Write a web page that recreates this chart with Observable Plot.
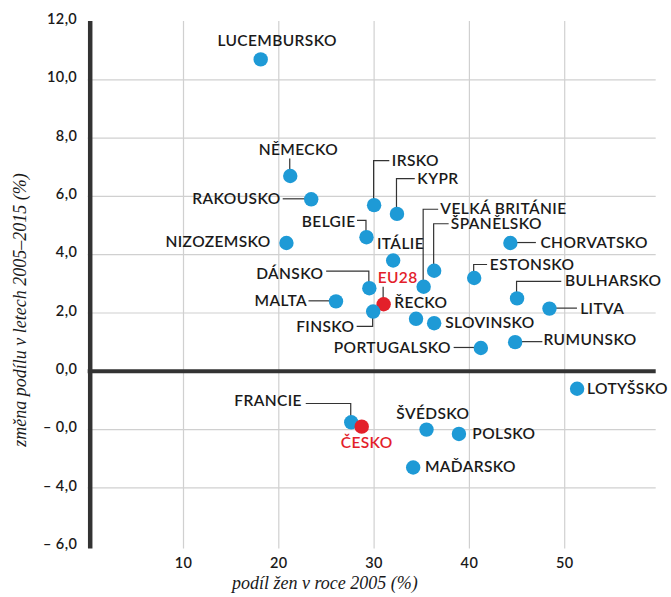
<!DOCTYPE html>
<html><head><meta charset="utf-8">
<script src="https://cdn.jsdelivr.net/npm/d3@7"></script>
<script src="https://cdn.jsdelivr.net/npm/@observablehq/plot@0.6"></script>
<style>
html,body{margin:0;padding:0;background:#fff;}
#chart{width:671px;height:597px;overflow:hidden;}
</style></head><body><div id="chart"></div>
<script>
// ---- data ----
const countries = ["LUCEMBURSKO","NĚMECKO","RAKOUSKO","IRSKO","KYPR","BELGIE","NIZOZEMSKO","ITÁLIE","DÁNSKO","EU28","MALTA","FINSKO","ŘECKO","SLOVINSKO","VELKÁ BRITÁNIE","ŠPANĚLSKO","CHORVATSKO","ESTONSKO","BULHARSKO","LITVA","PORTUGALSKO","RUMUNSKO","LOTYŠSKO","FRANCIE","ČESKO","ŠVÉDSKO","POLSKO","MAĎARSKO"];
const share2005 = [18.1,21.2,23.4,30.0,32.4,29.2,20.8,32.0,29.5,31.0,26.0,29.9,34.4,36.3,35.2,36.3,44.3,40.5,45.0,48.4,41.2,44.8,51.3,27.6,28.7,35.5,38.9,34.1];
const change2005_2015 = [10.7,6.7,5.9,5.7,5.4,4.6,4.4,3.8,2.85,2.3,2.4,2.05,1.8,1.65,2.9,3.45,4.4,3.2,2.5,2.15,0.8,1.0,-0.6,-1.75,-1.9,-2.0,-2.15,-3.3];
const highlighted = ["EU28","ČESKO"];
const xTicks = [10,20,30,40,50];
const yTicks = [12,10,8,6,4,2,0,-2,-4,-6];
const yTickLabels = ["12,0","10,0","8,0","6,0","4,0","2,0","0,0","– 0,0","– 4,0","– 6,0"];
const xTitle = "podíl žen v roce 2005 (%)";
const yTitle = "změna podílu v letech 2005–2015 (%)";

// ---- label layout (pixel offsets from each dot: anchor, dx, dy, leader path) ----
const labelLayout = {
  "LUCEMBURSKO": ["middle", 16.4, -18, null],
  "NĚMECKO": ["middle", 8.2, -25.7, [[0,0],[0,-17]]],
  "RAKOUSKO": ["end", -30.7, 0, [[0,0],[-28,0]]],
  "IRSKO": ["start", 17.7, -44, [[0,0],[0,-44],[15.7,-44]]],
  "KYPR": ["start", 20.3, -34.7, [[0,0],[0,-34.7],[18.3,-34.7]]],
  "BELGIE": ["end", -11, -15, [[0,0],[0,-16.4],[-9,-16.4]]],
  "NIZOZEMSKO": ["end", -15.7, -1, null],
  "ITÁLIE": ["middle", 7.3, -16.6, null],
  "DÁNSKO": ["end", -46, -14.6, [[0,0],[0,-16.5],[-42.7,-16.5]]],
  "EU28": ["start", -6, -26, [[0,0],[0,-17]]],
  "MALTA": ["end", -29, 0, [[0,0],[-27,0]]],
  "FINSKO": ["end", -18.7, 15.3, [[0,0],[0,15.3],[-16,15.3]]],
  "ŘECKO": ["start", -21.7, -15.7, null],
  "SLOVINSKO": ["start", 11, 0, null],
  "VELKÁ BRITÁNIE": ["start", 16.7, -78, [[0,0],[0,-77],[15,-77]]],
  "ŠPANĚLSKO": ["start", 16.7, -46.5, [[0,0],[0,-46.5],[15,-46.5]]],
  "CHORVATSKO": ["start", 30, 0, [[0,0],[26,0]]],
  "ESTONSKO": ["start", 15.7, -13, [[0,0],[0,-13],[13.4,-13]]],
  "BULHARSKO": ["start", 48, -17.3, [[0,0],[0,-16.6],[44.7,-16.6]]],
  "LITVA": ["start", 30.7, 0, [[0,0],[28,0]]],
  "PORTUGALSKO": ["end", -30, 0, [[0,0],[-26.7,0]]],
  "RUMUNSKO": ["start", 28.3, -2, [[0,0],[27.7,0]]],
  "LOTYŠSKO": ["start", 10, 0, null],
  "FRANCIE": ["end", -49.3, -21, [[0,0],[0,-18.3],[-45,-18.3]]],
  "ČESKO": ["middle", 5, 16, null],
  "ŠVÉDSKO": ["middle", 6.3, -15.4, null],
  "POLSKO": ["start", 13.4, 0, null],
  "MAĎARSKO": ["start", 11.7, -0.7, null]
};

const BLUE = "#1e9ad6", RED = "#e3202a", INK = "#1a1a1a", AXIS = "#333333", GRID = "#d0d0d0";
const FONT = "Lato, 'Noto Sans', sans-serif";

const data = countries.map((name, i) => ({
  name, x: share2005[i], y: change2005_2015[i], hi: highlighted.includes(name)
}));

const labelMarks = data.map(d => {
  const [anchor, dx, dy] = labelLayout[d.name];
  return Plot.text([d], {
    x: "x", y: "y", text: "name", dx, dy, textAnchor: anchor,
    fill: d.hi ? RED : INK, fontSize: 15.5, fontWeight: 600, fontFamily: FONT
  });
});

const plot = Plot.plot({
  width: 671, height: 597,
  marginTop: 21, marginBottom: 48.4, marginLeft: 87.7, marginRight: 15.3,
  style: {fontFamily: FONT, fontSize: "14.5px", color: INK, letterSpacing: "0.4px", background: "#fff", overflow: "visible"},
  x: {domain: [0, 59.6]},
  y: {domain: [-6.1, 12]},
  marks: [
    Plot.gridX(xTicks, {stroke: GRID, strokeOpacity: 1, strokeWidth: 1.2}),
    Plot.gridY(yTicks.filter(v => v !== 0 && v !== 12 && v !== -6), {stroke: GRID, strokeOpacity: 1, strokeWidth: 1.2}),
    Plot.ruleY([0], {stroke: AXIS, strokeWidth: 4}),
    Plot.ruleX([0], {stroke: AXIS, strokeWidth: 4.5, dx: 2}),
    Plot.axisY(yTicks, {tickSize: 0, tickPadding: 11, dy: -2, label: null,
      tickFormat: d => yTickLabels[yTicks.indexOf(d)], fill: INK, fontWeight: 600}),
    Plot.axisX(xTicks, {tickSize: 0, tickPadding: 8.5, label: null, tickFormat: d => String(d), fill: INK, fontWeight: 600}),
    Plot.dot(data, {x: "x", y: "y", r: 7.2, fill: d => d.hi ? RED : BLUE, stroke: null}),
    ...labelMarks
  ]
});

document.getElementById("chart").appendChild(plot);

// leader lines, positioned through the plot's own scales
const sx = plot.scale("x"), sy = plot.scale("y");
const svg = d3.select(plot);
const leaders = svg.insert("g", "g[aria-label='dot']").attr("fill", "none").attr("stroke", AXIS).attr("stroke-width", 1.2);
data.forEach(d => {
  const path = labelLayout[d.name][3];
  if (!path) return;
  const px = sx.apply(d.x), py = sy.apply(d.y);
  leaders.append("path").attr("d", d3.line()(path.map(([ox, oy]) => [px + ox, py + oy])));
});

// axis titles
svg.append("text")
  .attr("x", 232).attr("y", 589)
  .attr("text-anchor", "start")
  .attr("font-family", "'Liberation Serif', serif").attr("font-style", "italic")
  .attr("font-size", 18).attr("letter-spacing", 0).attr("fill", INK)
  .text(xTitle);
svg.append("text")
  .attr("transform", "translate(26,310) rotate(-90)")
  .attr("text-anchor", "middle")
  .attr("font-family", "'Liberation Serif', serif").attr("font-style", "italic")
  .attr("font-size", 18).attr("letter-spacing", 0).attr("fill", INK)
  .text(yTitle);
</script>
</body></html>
